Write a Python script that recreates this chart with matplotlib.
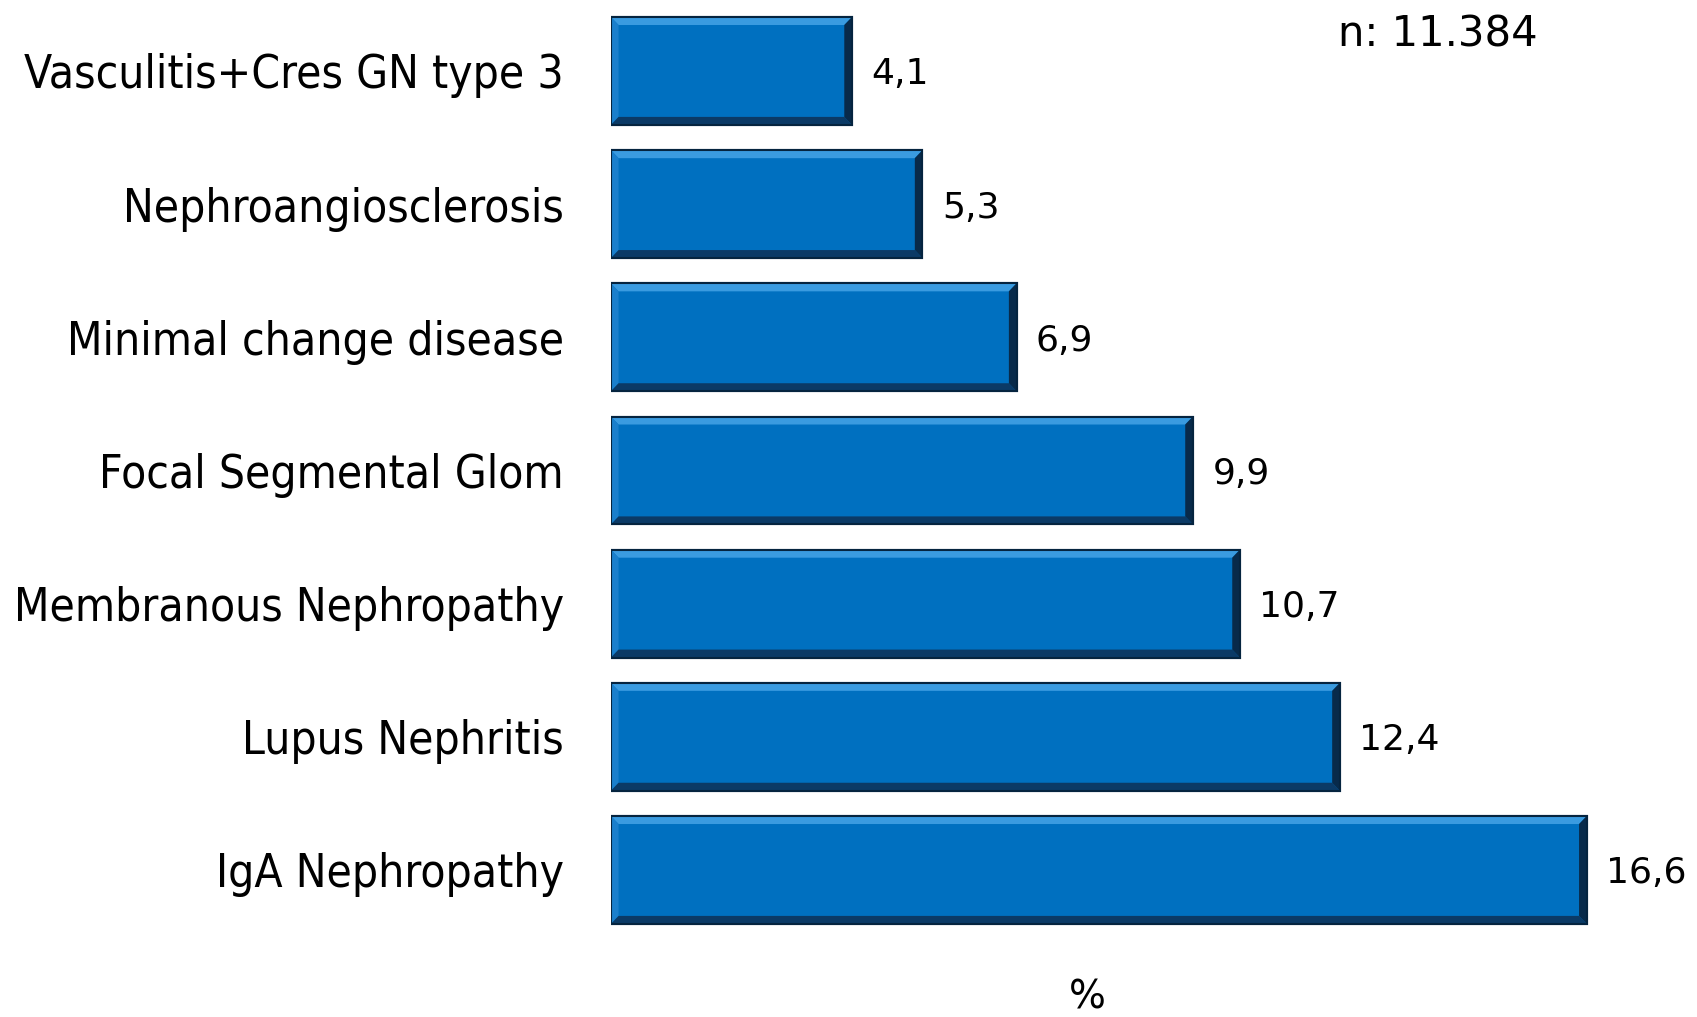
import matplotlib
matplotlib.use("Agg")
import matplotlib.pyplot as plt
from matplotlib.patches import Polygon

# categories, top to bottom
categories = ['Vasculitis+Cres GN type 3', 'Nephroangiosclerosis', 'Minimal change disease',
              'Focal Segmental Glom', 'Membranous Nephropathy', 'Lupus Nephritis', 'IgA Nephropathy']
values = [4.1, 5.3, 6.9, 9.9, 10.7, 12.4, 16.6]
value_labels = ['4,1', '5,3', '6,9', '9,9', '10,7', '12,4', '16,6']
n_text = 'n: 11.384'
x_title = '%'

main_col = '#0070C0'
light_col = '#3A9BE0'
dark_col = '#0B3A66'
darker_col = '#082A4A'

fig = plt.figure(figsize=(16.97, 10.17), dpi=100)
ax = fig.add_axes([0.360, 0.0791, 0.6235, 0.9166])

h = 0.81
dx, dy = 0.13, 0.06
ypos = list(range(len(categories)))
ax.barh(ypos, values, height=h, color=main_col, edgecolor='#05243F', linewidth=1.5, zorder=2)

# bevel look
for y, v in zip(ypos, values):
    y0, y1 = y - h / 2, y + h / 2
    top = [(0, y0), (v, y0), (v - dx, y0 + dy), (dx, y0 + dy)]
    bot = [(0, y1), (v, y1), (v - dx, y1 - dy), (dx, y1 - dy)]
    right = [(v, y0), (v, y1), (v - dx, y1 - dy), (v - dx, y0 + dy)]
    left = [(0, y0), (0, y1), (dx, y1 - dy), (dx, y0 + dy)]
    ax.add_patch(Polygon(top, closed=True, color=light_col, lw=0, zorder=3))
    ax.add_patch(Polygon(left, closed=True, color='#1A7FCC', lw=0, zorder=3))
    ax.add_patch(Polygon(bot, closed=True, color=dark_col, lw=0, zorder=3))
    ax.add_patch(Polygon(right, closed=True, color=darker_col, lw=0, zorder=3))
    ax.add_patch(Polygon([(0, y0), (v, y0), (v, y1), (0, y1)], closed=True,
                         fill=False, edgecolor='#05243F', lw=1.5, zorder=4))

for y, v, lab in zip(ypos, values, value_labels):
    ax.text(v + 0.33, y, lab, va='center_baseline', ha='left', fontsize=26, color='black')

ax.set_xlim(0, 18)
ax.set_ylim(6.5, -0.5)
ax.set_yticks(ypos)
ax.set_yticklabels(categories, fontsize=33, fontstretch='condensed')
ax.tick_params(axis='y', length=0, pad=34)
ax.set_xticks([])
for s in ax.spines.values():
    s.set_visible(False)

fig.text(0.847, 0.966, n_text, ha='center', va='center', fontsize=30)
fig.text(0.6405, 0.0187, x_title, ha='center', va='center', fontsize=28)

fig.savefig('out.png', dpi=100)
